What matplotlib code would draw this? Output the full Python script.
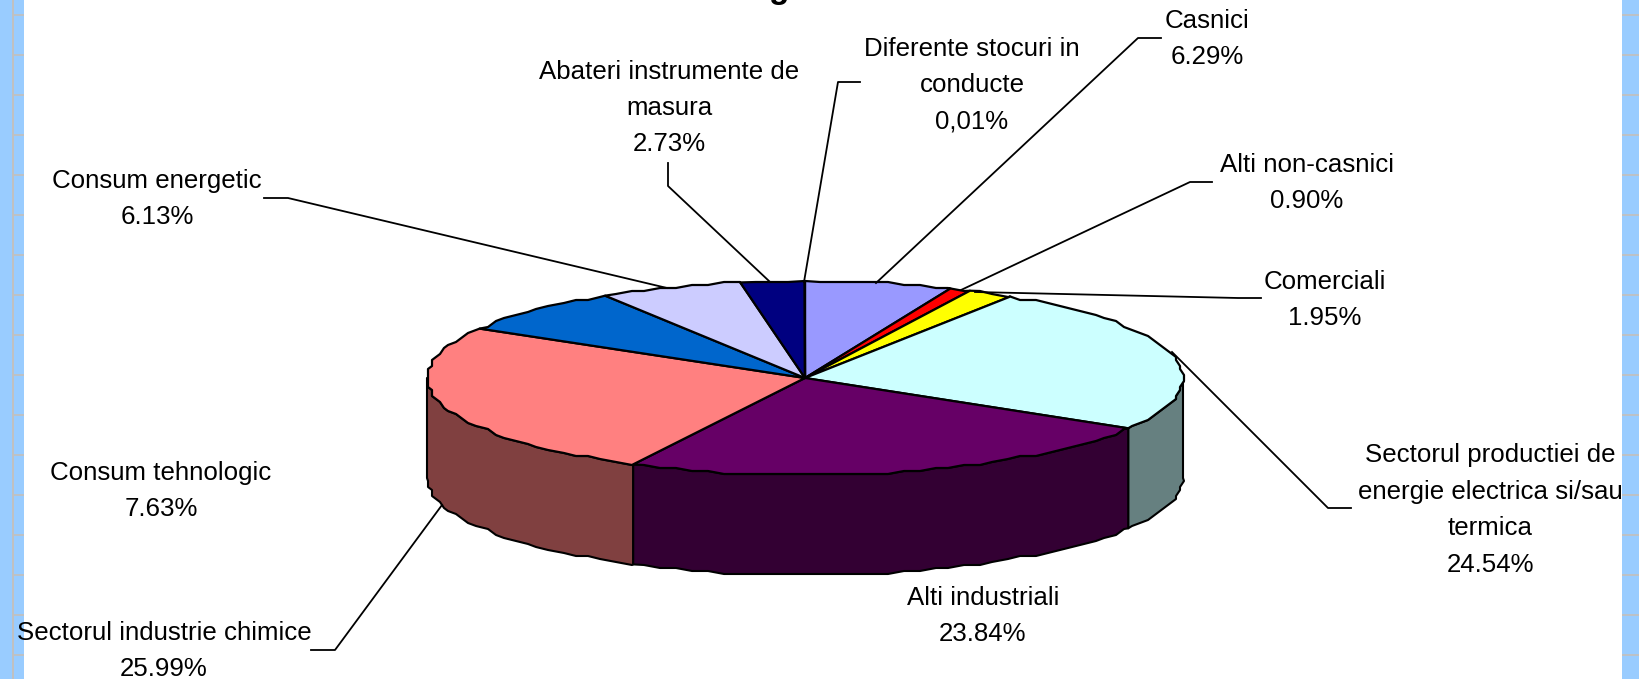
#!/usr/bin/env python3
"""3-D style pie of the gas consumption shares, drawn in pixel coordinates."""

import matplotlib
matplotlib.use("Agg")
import matplotlib.pyplot as plt
import numpy as np

W, H = 1639, 679

LABELS = ["Casnici", "Alti non-casnici", "Comerciali",
          "Sectorul productiei de\nenergie electrica si/sau\ntermica",
          "Alti industriali", "Sectorul industrie chimice",
          "Consum tehnologic", "Consum energetic",
          "Abateri instrumente de\nmasura", "Diferente stocuri in\nconducte"]
VALUES = [6.29, 0.90, 1.95, 24.54, 23.84, 25.99, 7.63, 6.13, 2.73, 0.01]
VALUE_TEXT = ["6.29%", "0.90%", "1.95%", "24.54%", "23.84%", "25.99%",
              "7.63%", "6.13%", "2.73%", "0,01%"]
COLORS = ["#9999FF", "#FF0000", "#FFFF00", "#CCFFFF", "#660066",
          "#FF8080", "#0066CC", "#CCCCFF", "#000080", "#FF00FF"]

# label centres (px) and leader polylines, same order as LABELS
LABEL_XY = [(1207, 39), (1307, 183), (1325, 300), (1490, 510), (983, 616),
            (164, 651), (161, 491), (157, 199), (669, 108), (972, 85)]
LEADERS = [
    [(1161, 38), (1138, 38), (876, 283)],
    [(1212, 182), (1190, 182), (961, 290)],
    [(1261, 298), (1238, 298), (975, 292)],
    [(1351, 508), (1328, 508), (1172, 352)],
    None,
    [(311, 650), (335, 650), (442, 505)],
    None,
    [(264, 198), (288, 198), (667, 288)],
    [(668, 163), (668, 186), (769, 281)],
    [(860, 82), (838, 82), (804, 282)],
]

CX, CY, RX, RY, DEPTH = 805, 378, 378, 97, 100
BAND = "#99CCFF"
TICK = "#C0C0C0"

plt.rcParams["font.family"] = ["Liberation Sans", "DejaVu Sans"]


def rim(a0, a1):
    """Ellipse points between two clockwise-from-top angles (degrees)."""
    # the source is a resampled bitmap: edges come out slightly stepped, so
    # inner points sit on a coarse angle grid and are snapped to a pixel lattice
    grid = np.arange(np.ceil(a0 / 2.5), np.floor(a1 / 2.5) + 1) * 2.5
    grid = grid[(grid > a0) & (grid < a1)]
    a = np.radians(np.r_[a0, grid, a1])
    x = CX + RX * np.sin(a)
    y = CY - RY * np.cos(a)
    x[1:-1] = np.round(x[1:-1] / 4) * 4
    y[1:-1] = np.round(y[1:-1] / 3) * 3
    return x, y


fig = plt.figure(figsize=(W / 100, H / 100), dpi=100, facecolor="white")
ax = fig.add_axes([0, 0, 1, 1])
ax.set_xlim(0, W)
ax.set_ylim(H, 0)
ax.axis("off")

# side bands
ax.fill_between([0, 24], 0, H, color=BAND, lw=0, zorder=1)
ax.fill_between([1622, W], 0, H, color=BAND, lw=0, zorder=1)
ax.fill_between([12, 14], 0, H, color=TICK, lw=0, zorder=2)
for y in np.arange(14.7, H, 40):
    ax.plot([14, 24], [y, y], color=TICK, lw=1.3, solid_capstyle="butt", zorder=2)
    ax.plot([1622, W], [y, y], color=TICK, lw=1.3, solid_capstyle="butt", zorder=2)

edges = np.cumsum([0] + VALUES) / sum(VALUES) * 360.0

# front wall, only the part facing the viewer
for i, color in enumerate(COLORS):
    a0, a1 = max(edges[i], 90), min(edges[i + 1], 270)
    if a1 <= a0:
        continue
    x, y = rim(a0, a1)
    wall = tuple(c * 0.5 for c in matplotlib.colors.to_rgb(color))
    ax.fill(np.r_[x, x[::-1]], np.r_[y, y[::-1] + DEPTH], facecolor=wall,
            edgecolor="black", lw=1.5, joinstyle="round", zorder=3)

# top face
for i, color in enumerate(COLORS):
    x, y = rim(edges[i], edges[i + 1])
    ax.fill(np.r_[CX, x], np.r_[CY, y], facecolor=color, edgecolor="black",
            lw=1.6, joinstyle="round", zorder=4)

# leaders
for pts in LEADERS:
    if pts is None:
        continue
    ax.plot(*zip(*pts), color="black", lw=1.3, zorder=5)

# labels
for (lx, ly), name, val in zip(LABEL_XY, LABELS, VALUE_TEXT):
    ax.text(lx, ly, f"{name}\n{val}", ha="center", va="center", fontsize=18.6,
            linespacing=1.65, color="black", zorder=6)

# bottom of the cropped title
ax.text(779, -2, "g", ha="center", va="baseline", fontsize=24, fontweight="bold",
        color="black", zorder=6)

fig.savefig("out.png", dpi=100, facecolor="white")
